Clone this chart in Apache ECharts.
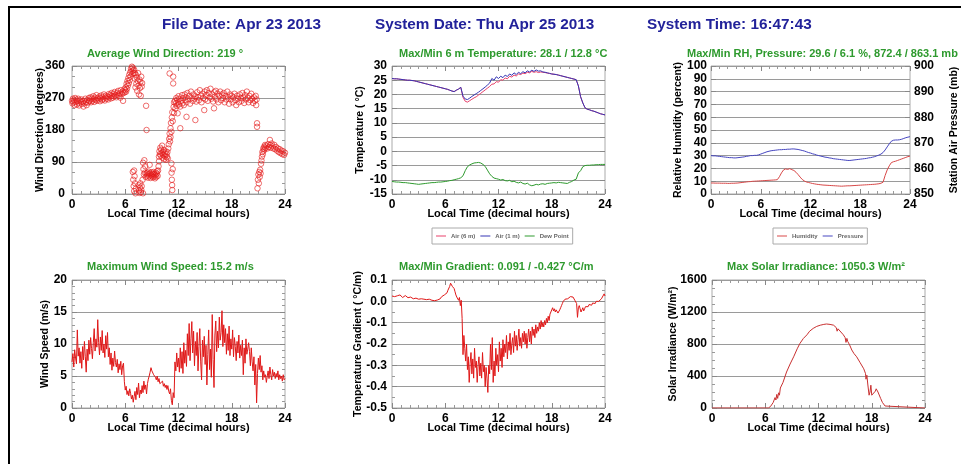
<!DOCTYPE html>
<html><head><meta charset="utf-8">
<script src="https://cdn.jsdelivr.net/npm/echarts@6/dist/echarts.min.js"></script>
<style>html,body{margin:0;padding:0;background:#fff}#c{width:961px;height:464px}</style>
</head><body><div id="c"></div>
<script>
const FONT = '"Liberation Sans", Arial, Helvetica, sans-serif';

// ---------- texts ----------
const headerTitles = ['File Date: Apr 23 2013', 'System Date: Thu Apr 25 2013', 'System Time: 16:47:43'];
const panelTitles = [
  'Average Wind Direction: 219 °',
  'Max/Min 6 m Temperature: 28.1 / 12.8 °C',
  'Max/Min RH, Pressure: 29.6 / 6.1 %, 872.4 / 863.1 mb',
  'Maximum Wind Speed: 15.2 m/s',
  'Max/Min Gradient: 0.091 / -0.427 °C/m',
  'Max Solar Irradiance: 1050.3 W/m²'
];
const xAxisName = 'Local Time (decimal hours)';
const tempLegend = ['Air (6 m)', 'Air (1 m)', 'Dew Point'];
const rhLegend = ['Humidity', 'Pressure'];

// ---------- data ----------
// Wind direction scatter: [hour, degrees]
const windDirPoints = [
[0,262],[0.05,255],[0.1,268],[0.15,258],[0.2,264],[0.3,250],[0.35,270],[0.4,259],[0.5,265],[0.55,252],[0.6,261],[0.7,268],[0.75,256],[0.8,249],[0.9,263],[1.0,258],[1.05,266],[1.1,253],[1.2,260],[1.3,246],[1.35,262],[1.4,255],[1.5,268],[1.6,258],[1.65,250],[1.7,264],[1.8,257],[1.9,270],[1.95,261],
[2.0,263],[2.1,272],[2.15,258],[2.2,268],[2.3,262],[2.4,275],[2.45,266],[2.5,259],[2.6,271],[2.7,265],[2.75,278],[2.8,262],[2.9,270],[3.0,266],[3.1,274],[3.15,261],[3.2,269],[3.3,277],[3.4,264],[3.45,272],[3.5,267],[3.6,280],[3.7,263],[3.75,271],[3.8,276],[3.9,268],
[4.0,274],[4.1,266],[4.15,281],[4.2,272],[4.3,278],[4.4,269],[4.45,284],[4.5,276],[4.6,271],[4.7,282],[4.75,275],[4.8,287],[4.9,278],[5.0,272],[5.1,285],[5.15,279],[5.2,290],[5.3,276],[5.4,283],[5.45,271],[5.5,292],[5.6,281],[5.7,288],[5.75,262],[5.8,284],[5.9,295],[5.95,286],
[6.0,292],[6.05,300],[6.1,288],[6.15,310],[6.2,296],[6.25,318],[6.3,305],[6.35,326],[6.4,312],[6.45,335],[6.5,320],[6.55,342],[6.6,330],[6.65,352],[6.7,345],[6.75,358],[6.8,338],[6.85,355],[6.9,348],[6.95,340],
[6.85,62],[6.9,40],[6.95,22],[7.0,8],[7.05,50],[7.1,30],[7.15,2],[7.2,15],[7.0,66],
[7.0,350],[7.05,325],[7.1,340],[7.15,300],[7.2,335],[7.25,310],[7.3,328],[7.35,290],[7.4,318],[7.45,340],[7.5,305],[7.55,280],[7.6,322],[7.65,298],[7.7,315],[7.75,276],[7.8,330],[7.85,302],[7.9,312],
[7.5,25],[7.55,10],[7.6,3],[7.65,18],[7.7,30],[7.75,5],[7.8,12],[7.85,22],[8.0,2],[7.95,40],
[8.0,88],[8.05,70],[8.1,55],[8.15,95],[8.2,60],[8.25,78],[8.3,48],[8.35,248],[8.4,180],[8.4,58],
[8.45,52],[8.5,60],[8.55,46],[8.6,56],[8.65,63],[8.7,50],[8.75,82],[8.8,58],[8.85,45],[8.9,54],[8.95,61],[9.0,50],[9.05,57],[9.1,47],[9.15,55],[9.2,62],[9.25,49],[9.3,56],[9.35,44],[9.4,53],[9.45,60],[9.5,48],[9.55,57],[9.6,64],[9.65,51],[9.7,66],[9.75,78],[9.8,92],
[9.8,105],[9.85,120],[9.9,112],[9.95,130],[10.0,108],[10.05,125],[10.1,115],[10.15,136],[10.2,102],[10.25,118],[10.3,110],[10.35,124],[10.4,98],[10.45,113],[10.5,106],[10.55,120],[10.6,96],[10.65,112],[10.7,104],[10.75,118],[10.8,100],[10.85,128],
[10.9,140],[10.95,155],[11.0,339],[11.0,170],[11.05,148],[11.1,185],[11.1,160],[11.15,200],[11.2,175],[11.2,86],[11.22,60],[11.25,215],[11.25,40],[11.28,25],[11.3,11],[11.3,230],[11.35,205],[11.35,70],[11.4,330],[11.4,311],[11.45,245],[11.5,228],[11.5,258],
[11.6,262],[11.65,240],[11.7,255],[11.75,270],[11.8,248],[11.85,265],[11.9,227],[11.95,258],[12.0,275],[12.05,252],[12.1,268],[12.2,185],[12.2,246],[12.3,262],[12.4,278],[12.45,255],[12.5,270],[12.6,250],[12.7,280],[12.75,264],[12.8,272],[12.9,217],[12.9,258],[13.0,284],[13.1,266],[13.2,276],[13.3,254],[13.4,288],[13.5,270],[13.6,262],[13.7,280],[13.8,268],[13.9,208],[13.9,275],[14.0,260],[14.1,286],[14.2,272],[14.3,264],[14.4,292],[14.5,276],[14.6,258],[14.7,282],[14.8,270],[14.9,236],[14.95,288],[15.0,266],[15.1,278],[15.2,292],[15.3,262],[15.4,284],[15.5,272],[15.6,296],[15.7,268],[15.8,280],[15.9,260],[16.0,241],[16.05,286],[16.1,274],[16.2,290],[16.3,266],[16.4,282],[16.5,258],[16.6,276],[16.7,288],[16.8,264],[16.9,280],[17.0,270],[17.1,284],[17.2,258],[17.3,276],[17.4,266],[17.5,288],[17.6,272],[17.7,254],[17.8,280],[17.9,266],[18.0,276],[18.1,258],[18.2,272],[18.3,282],[18.4,264],[18.5,250],[18.6,276],[18.7,268],[18.8,258],[18.9,280],[19.0,270],[19.1,262],[19.2,284],[19.3,272],[19.4,256],[19.5,278],[19.6,266],[19.7,288],[19.8,270],[19.9,258],[20.0,276],[20.1,264],[20.2,282],[20.3,268],[20.4,256],[20.5,272],[20.6,262],[20.7,276],[20.75,250],[20.8,266],
[20.85,199],[20.85,189],[20.9,16],[20.95,40],[21.0,55],[21.05,30],[21.1,62],[21.15,48],[21.2,68],[21.25,58],[21.3,85],[21.35,94],[21.4,105],
[21.45,118],[21.5,112],[21.55,128],[21.6,122],[21.65,133],[21.7,126],[21.75,138],[21.8,130],[21.9,136],[22.0,128],[22.1,140],[22.2,132],[22.3,152],[22.35,138],[22.4,130],[22.5,142],[22.6,134],[22.7,128],[22.8,138],[22.9,126],[23.0,132],[23.1,122],[23.2,128],[23.3,118],[23.4,126],[23.5,115],[23.6,122],[23.7,112],[23.8,120],[23.9,110],[24.0,116]
];

// Temperatures, one value every 0.25 h from 0 h
const tempStartHour = 0, tempStepHour = 0.25;
const tempAir6m = [
25.6,25.5,25.5,25.4, 25.3,25.2,25.1,25.0, 25.0,24.9,24.8,24.6, 24.4,24.2,24.0,23.8,
23.6,23.4,23.2,23.0, 22.8,22.6,22.4,22.2, 22.0,21.8,21.5,21.2, 21.0,21.5,21.9,22.5,
19.0,17.6,17.3,17.8, 18.3,18.8,19.2,19.8, 20.4,21.0,21.6,22.2, 22.8,23.6,23.7,24.5,
24.3,25.2,25.0,25.8, 25.5,26.4,26.1,26.8, 26.5,27.2,27.0,27.5, 27.3,27.8,27.6,28.1,
27.8,28.0,27.7,27.9, 27.8,27.7,27.5,27.4, 27.2,27.1,27.0,26.8, 26.6,26.4,26.2,26.0,
25.8,25.6,25.4,25.2, 23.0,19.2,17.0,15.3, 14.8,14.6,14.3,14.1, 13.8,13.5,13.2,13.0, 12.8];
const tempAir1m = [
25.6,25.5,25.5,25.4, 25.3,25.2,25.1,25.0, 25.0,24.9,24.8,24.6, 24.4,24.2,24.0,23.8,
23.6,23.4,23.2,23.0, 22.8,22.6,22.4,22.2, 22.0,21.8,21.5,21.2, 21.0,21.5,21.9,22.5,
19.4,18.4,18.2,18.7, 19.3,19.8,20.3,20.8, 21.4,22.0,22.6,23.3, 24.0,25.6,25.0,26.2,
25.6,26.4,25.9,26.8, 26.3,27.2,26.7,27.6, 27.0,27.8,27.3,28.0, 27.6,28.3,27.9,28.5,
28.1,28.6,28.2,28.3, 27.9,27.8,27.6,27.4, 27.2,27.1,27.0,26.8, 26.6,26.4,26.2,26.0,
25.8,25.6,25.4,25.2, 23.0,19.2,17.0,15.3, 14.8,14.6,14.3,14.1, 13.8,13.5,13.2,13.0, 12.8];
const tempDewPoint = [
-10.6,-10.7,-10.8,-10.8, -10.9,-11.0,-11.0,-11.1, -11.2,-11.3,-11.4,-11.5, -11.6,-11.5,-11.4,-11.3,
-11.2,-11.1,-11.0,-11.0, -10.9,-10.8,-10.8,-10.7, -10.6,-10.5,-10.3,-10.2, -10.0,-9.8,-9.6,-9.3,
-8.6,-6.8,-5.4,-4.8, -4.4,-4.1,-4.0,-3.9, -4.1,-4.6,-5.3,-6.6, -7.9,-8.8,-9.4,-9.6,
-9.8,-10.1,-9.9,-10.3, -10.4,-10.2,-10.7,-10.5, -10.9,-11.1,-10.8,-11.3, -11.5,-11.2,-11.8,-12.1,
-11.9,-11.6,-11.8,-11.5, -11.4,-11.6,-11.3,-11.2, -11.1,-11.0,-11.1,-10.9, -11.0,-11.1,-11.2,-11.3,
-10.9,-10.6,-10.1,-9.8, -7.6,-6.8,-5.4,-5.0, -4.9,-4.9,-4.8,-4.8, -4.7,-4.7,-4.6,-4.6, -4.6];

// Humidity (%) and pressure (mb), one value every 0.25 h
const rhStartHour = 0, rhStepHour = 0.25;
const humidity = [
8.6,8.6,8.5,8.5, 8.5,8.4,8.4,8.4, 8.3,8.3,8.4,8.4, 8.5,8.6,8.8,9.0,
9.2,9.4,9.6,9.7, 9.9,10.0,10.1,10.2, 10.3,10.4,10.5,10.6, 10.7,10.8,10.9,11.0,
11.2,13.5,16.5,18.8, 19.6,19.2,19.8,19.0, 18.4,17.0,15.2,13.2, 11.4,10.2,9.4,9.0,
8.6,8.2,7.9,7.6, 7.4,7.2,7.0,6.9, 6.8,6.7,6.6,6.5, 6.4,6.3,6.2,6.1,
6.2,6.3,6.4,6.4, 6.5,6.6,6.7,6.8, 6.9,7.0,7.1,7.2, 7.3,7.4,7.5,7.6,
7.8,8.0,8.4,9.2, 14.5,18.8,22.0,24.5, 25.2,25.6,26.2,26.8, 27.4,28.0,28.6,29.2, 29.6];
const pressure = [
865.0,864.9,864.9,864.8, 864.7,864.6,864.5,864.4, 864.3,864.2,864.2,864.1, 864.1,864.2,864.3,864.4,
864.5,864.7,864.8,865.0, 865.0,865.1,865.1,865.3, 865.6,865.9,866.2,866.5, 866.7,866.9,867.0,867.1,
867.2,867.3,867.3,867.4, 867.4,867.5,867.5,867.6, 867.6,867.5,867.4,867.2, 867.0,866.8,866.5,866.2,
866.0,865.7,865.5,865.2, 865.0,864.8,864.6,864.4, 864.3,864.1,864.0,863.8, 863.7,863.6,863.5,863.4,
863.3,863.2,863.1,863.1, 863.2,863.3,863.4,863.5, 863.6,863.7,863.8,863.9, 864.1,864.2,864.4,864.6,
864.9,865.2,865.6,866.2, 867.2,868.4,869.6,870.6, 871.0,871.1,871.1,871.2, 871.4,871.7,872.0,872.2, 872.4];

// Wind speed (m/s), one value every 0.1 h
const speedStartHour = 0, speedStepHour = 0.1;
const windSpeed = [
7.2,8.5,6.4,9.1,7.8,6.9,12.2,8.1,9.4,7.0,
8.8,6.2,9.6,7.5,10.4,8.0,5.6,9.2,7.4,10.6,
8.4,11.0,9.3,7.7,10.2,12.4,8.9,10.8,9.5,13.8,
10.2,8.3,11.1,9.0,12.1,8.6,10.0,7.9,11.3,9.2,
11.8,8.0,9.4,6.8,8.6,5.9,7.8,6.5,8.9,7.1,
6.4,7.6,5.5,6.9,6.0,7.3,5.2,6.6,7.0,4.1,
2.8,3.4,2.1,2.7,1.9,3.0,2.3,1.4,2.0,0.9,
1.8,2.6,1.3,3.2,2.1,3.9,1.6,2.8,2.2,3.5,
2.4,4.2,2.9,3.6,2.2,3.8,4.5,5.0,5.6,6.3,
5.8,6.0,5.2,5.5,4.8,4.4,5.0,4.1,4.6,3.8,
4.0,3.6,4.2,3.4,3.8,3.2,3.6,2.9,3.5,2.6,
2.2,3.0,1.2,0.5,2.4,1.6,7.2,5.8,8.6,6.4,
7.8,5.6,9.4,6.2,8.8,5.4,10.2,7.0,9.0,6.5,
11.6,8.2,13.2,7.4,10.8,13.5,8.6,12.0,6.6,10.4,
8.2,11.8,5.8,9.6,12.4,7.2,4.4,10.6,8.0,11.2,
6.8,9.8,3.6,8.4,12.2,6.0,9.2,4.8,14.6,7.6,
3.2,11.4,13.6,8.8,12.0,9.4,14.2,10.6,11.8,15.2,
9.6,13.0,10.2,12.4,8.4,11.6,9.0,12.8,8.2,10.8,
9.2,12.2,8.0,11.0,9.6,7.4,10.4,8.6,11.4,7.8,
9.8,8.2,10.6,5.2,9.4,7.0,10.8,8.4,9.2,10.2,
8.8,6.6,9.4,7.2,5.8,8.0,3.6,6.8,0.8,5.4,
7.8,6.0,8.2,5.6,6.6,4.4,5.8,4.8,5.2,4.0,
5.0,5.8,4.6,6.4,5.2,4.4,6.0,5.0,5.6,4.6,
5.4,4.8,5.8,4.4,5.2,4.6,5.0,4.2,5.2,4.4,
4.6];

// Temperature gradient (°C/m), one value every 0.1 h
const gradStartHour = 0, gradStepHour = 0.1;
const gradient = [
0.025,0.02,0.03,0.022,0.028,0.018,0.026,0.02,0.024,0.03,
0.022,0.026,0.018,0.024,0.02,0.027,0.019,0.023,0.017,0.022,
0.016,0.02,0.014,0.018,0.012,0.017,0.013,0.015,0.011,0.014,
0.01,0.014,0.009,0.012,0.008,0.013,0.01,0.006,0.011,0.008,
0.012,0.006,0.01,0.004,0.009,0.005,0.011,0.007,0.003,0.008,
0.01,0.006,0.012,0.015,0.011,0.018,0.022,0.026,0.024,0.03,
0.028,0.035,0.04,0.052,0.06,0.07,0.085,0.091,0.07,0.075,
0.06,0.045,0.03,0.02,0.012,0.005,0.018,-0.02,0.005,-0.08,
-0.25,-0.16,-0.22,-0.28,-0.2,-0.32,-0.26,-0.38,-0.29,-0.24,
-0.34,-0.27,-0.36,-0.22,-0.31,-0.28,-0.38,-0.3,-0.26,-0.35,
-0.29,-0.36,-0.24,-0.33,-0.3,-0.4,-0.31,-0.36,-0.427,-0.3,
-0.34,-0.2,-0.32,-0.17,-0.38,-0.28,-0.35,-0.22,-0.3,-0.25,
-0.33,-0.19,-0.28,-0.22,-0.31,-0.18,-0.26,-0.2,-0.24,-0.16,
-0.27,-0.19,-0.23,-0.15,-0.25,-0.2,-0.17,-0.24,-0.14,-0.21,
-0.16,-0.23,-0.18,-0.13,-0.21,-0.17,-0.22,-0.15,-0.19,-0.14,
-0.2,-0.15,-0.22,-0.17,-0.13,-0.19,-0.14,-0.2,-0.12,-0.16,
-0.13,-0.17,-0.11,-0.15,-0.12,-0.14,-0.1,-0.13,-0.09,-0.12,
-0.1,-0.12,-0.09,-0.11,-0.08,-0.1,-0.07,-0.09,-0.06,-0.05,
-0.04,-0.03,-0.045,-0.035,-0.05,-0.04,-0.045,-0.055,-0.05,-0.04,
-0.03,-0.02,-0.01,0.0,0.005,0.01,0.008,0.014,0.012,0.018,
0.016,0.022,0.018,0.025,0.02,0.012,0.005,0.0,-0.01,-0.075,
-0.03,-0.02,-0.035,-0.05,-0.04,-0.03,-0.045,-0.035,-0.025,-0.03,
-0.02,-0.025,-0.015,-0.02,-0.01,-0.018,-0.008,-0.012,-0.005,-0.01,
0.0,-0.005,0.004,0.0,0.008,0.002,0.012,0.005,0.015,0.035,
0.025];

// Solar irradiance: [hour, W/m2]
const solarPoints = [
[0,0],[6.35,0],[6.6,20],[6.9,70],[7.1,130],[7.2,100],[7.3,170],[7.4,120],[7.5,190],[7.6,160],[7.7,250],[7.8,230],[8.0,320],[8.4,450],[8.8,550],[9.2,640],[9.6,740],[9.9,806],[10.3,870],[10.7,915],[11.0,960],[11.4,995],[11.8,1020],[12.2,1035],[12.6,1045],[12.9,1050],[13.3,1045],[13.7,1035],[14.0,1005],[14.1,960],[14.2,990],[14.4,975],[14.8,915],[15.0,880],[15.1,820],[15.2,870],[15.3,830],[15.5,790],[15.75,725],[16.0,680],[16.3,640],[16.7,565],[17.1,490],[17.3,430],[17.35,360],[17.45,410],[17.55,300],[17.7,160],[17.8,200],[17.9,285],[18.0,160],[18.2,140],[18.4,210],[18.5,240],[18.7,200],[18.8,210],[19.0,120],[19.2,70],[19.5,25],[19.7,0],[24,0]
];

// ---------- helpers ----------
function series0(start, step, vals){ return vals.map((v,i)=>[start + i*step, v]); }

const grids = [
  {left:72, top:66, width:213, height:128},
  {left:392, top:66, width:213, height:128},
  {left:711, top:66, width:213, height:128},
  {left:72, top:280, width:213, height:128},
  {left:392, top:280, width:213, height:128},
  {left:712, top:280, width:213, height:128}
].map(g=>Object.assign(g,{show:true, borderColor:'#aaaaaa', borderWidth:1, backgroundColor:'#fff'}));

const labelStyle = {color:'#000', fontWeight:'bold', fontSize:12, fontFamily:FONT};
const nameStyle = {color:'#000', fontWeight:'bold', fontSize:11, fontFamily:FONT};
const yNameStyle = {color:'#000', fontWeight:'bold', fontSize:10.5, fontFamily:FONT};
const tickStyle = {inside:true, length:5, lineStyle:{color:'#888', width:1}};
const minorStyle = (n)=>({show:true, splitNumber:n, length:3, lineStyle:{color:'#999', width:1}});
const noLine = {show:false, onZero:false};

const xAxes = [], yAxes = [];
for (let g=0; g<6; g++){
  xAxes.push({type:'value', gridIndex:g, position:'bottom', min:0, max:24, interval:6,
    axisLine:noLine, axisTick:tickStyle, minorTick:minorStyle(6), splitLine:{show:false},
    axisLabel:Object.assign({margin:5}, labelStyle),
    name:xAxisName, nameLocation:'middle', nameGap:14, nameMoveOverlap:false, nameTextStyle:nameStyle});
}
for (let g=0; g<6; g++){
  xAxes.push({type:'value', gridIndex:g, position:'top', min:0, max:24, interval:6,
    axisLine:noLine, axisTick:tickStyle, minorTick:minorStyle(6), splitLine:{show:false},
    axisLabel:{show:false}});
}
const yDefs = [
  {min:0, max:360, interval:90, minor:3, name:'Wind Direction (degrees)', gap:26, margin:7},
  {min:-15, max:30, interval:5, minor:1, name:'Temperature ( °C)', gap:26, margin:5},
  {min:0, max:100, interval:10, minor:1, name:'Relative Humidity (percent)', gap:27, margin:4},
  {min:0, max:20, interval:5, minor:5, name:'Wind Speed (m/s)', gap:21, margin:5},
  {min:-0.5, max:0.1, interval:0.1, minor:2, name:'Temperature Gradient ( °C/m)', gap:28, margin:5, fmt:v=>Math.abs(v)<1e-9?'0.0':v.toFixed(1)},
  {min:0, max:1600, interval:400, minor:4, name:'Solar Irradiance (W/m²)', gap:33, margin:5}
];
yDefs.forEach((d,g)=>{
  const ax = {type:'value', gridIndex:g, position:'left', min:d.min, max:d.max, interval:d.interval,
    axisLine:noLine, axisTick:tickStyle, minorTick:minorStyle(d.minor),
    splitLine:{show:true, lineStyle:{color:'#9a9a9a', width:1}},
    axisLabel:Object.assign({margin:d.margin, formatter:d.fmt || (v=>String(v))}, labelStyle),
    name:d.name, nameLocation:'middle', nameGap:d.gap, nameRotate:90, nameMoveOverlap:false, nameTextStyle:yNameStyle};
  yAxes.push(ax);
});
// right-side axes (ticks only), except pressure axis on grid 2
for (let g=0; g<6; g++){
  const d = yDefs[g];
  if (g===2){
    yAxes.push({type:'value', gridIndex:2, position:'right', min:850, max:900, interval:10,
      axisLine:noLine, axisTick:tickStyle, minorTick:minorStyle(1), splitLine:{show:false},
      axisLabel:Object.assign({margin:4, formatter:v=>String(v)}, labelStyle),
      name:'Station Air Pressure (mb)', nameLocation:'middle', nameGap:39, nameRotate:90, nameMoveOverlap:false, nameTextStyle:yNameStyle});
  } else {
    yAxes.push({type:'value', gridIndex:g, position:'right', min:d.min, max:d.max, interval:d.interval,
      axisLine:noLine, axisTick:tickStyle, minorTick:minorStyle(d.minor), splitLine:{show:false},
      axisLabel:{show:false}});
  }
}

const lineBase = {type:'line', symbol:'none', showSymbol:false, animation:false};
const series = [
  {type:'scatter', xAxisIndex:0, yAxisIndex:0, data:windDirPoints, symbol:'circle', symbolSize:5.5,
   itemStyle:{color:'rgba(0,0,0,0)', borderColor:'#e41c1c', borderWidth:0.8}, animation:false},
  Object.assign({}, lineBase, {name:tempLegend[0], xAxisIndex:1, yAxisIndex:1, data:series0(tempStartHour,tempStepHour,tempAir6m), lineStyle:{color:'#e8406a', width:1}, itemStyle:{color:'#e8406a'}}),
  Object.assign({}, lineBase, {name:tempLegend[1], xAxisIndex:1, yAxisIndex:1, data:series0(tempStartHour,tempStepHour,tempAir1m), lineStyle:{color:'#3434b4', width:1}, itemStyle:{color:'#3434b4'}}),
  Object.assign({}, lineBase, {name:tempLegend[2], xAxisIndex:1, yAxisIndex:1, data:series0(tempStartHour,tempStepHour,tempDewPoint), lineStyle:{color:'#2e9a2e', width:1}, itemStyle:{color:'#2e9a2e'}}),
  Object.assign({}, lineBase, {name:rhLegend[0], xAxisIndex:2, yAxisIndex:2, data:series0(rhStartHour,rhStepHour,humidity), lineStyle:{color:'#d84848', width:1}, itemStyle:{color:'#d84848'}}),
  Object.assign({}, lineBase, {name:rhLegend[1], xAxisIndex:2, yAxisIndex:8, data:series0(rhStartHour,rhStepHour,pressure), lineStyle:{color:'#4646c0', width:1}, itemStyle:{color:'#4646c0'}}),
  Object.assign({}, lineBase, {xAxisIndex:3, yAxisIndex:3, data:series0(speedStartHour,speedStepHour,windSpeed), lineStyle:{color:'#e01818', width:1}}),
  Object.assign({}, lineBase, {xAxisIndex:4, yAxisIndex:4, data:series0(gradStartHour,gradStepHour,gradient), lineStyle:{color:'#e01818', width:1}}),
  Object.assign({}, lineBase, {xAxisIndex:5, yAxisIndex:5, data:solarPoints, lineStyle:{color:'#c83030', width:1}})
];

const legendText = {fontSize:6, fontWeight:'bold', color:'#666', fontFamily:FONT};
const legendCommon = {icon:'rect', itemWidth:10, itemHeight:1, itemGap:5, padding:[5,4],
   borderColor:'#aaa', borderWidth:1, textStyle:legendText, selectedMode:false};
const legends = [
  Object.assign({data:tempLegend, left:432, top:228}, legendCommon),
  Object.assign({data:rhLegend, left:773, top:228}, legendCommon)
];

const headerX = [162, 375, 647];
const subPos = [[87,54],[399,54],[687,54],[87,267],[399,267],[727,267]];
const graphics = [
  {type:'rect', shape:{x:9, y:7, width:1000, height:1000}, style:{fill:'none', stroke:'#000', lineWidth:2}, silent:true}
];
headerTitles.forEach((t,i)=>graphics.push({type:'text', x:headerX[i], y:25,
  style:{text:t, font:'bold 15.3px '+FONT, fill:'#22229a', align:'left', verticalAlign:'middle'}}));
panelTitles.forEach((t,i)=>graphics.push({type:'text', x:subPos[i][0], y:subPos[i][1],
  style:{text:t, font:'bold 11px '+FONT, fill:'#2e9a2e', align:'left', verticalAlign:'middle'}}));

const chart = echarts.init(document.getElementById('c'), null, {renderer:'canvas'});
chart.setOption({
  animation:false,
  backgroundColor:'#fff',
  grid:grids, xAxis:xAxes, yAxis:yAxes, series:series, legend:legends, graphic:graphics
});
</script></body></html>
